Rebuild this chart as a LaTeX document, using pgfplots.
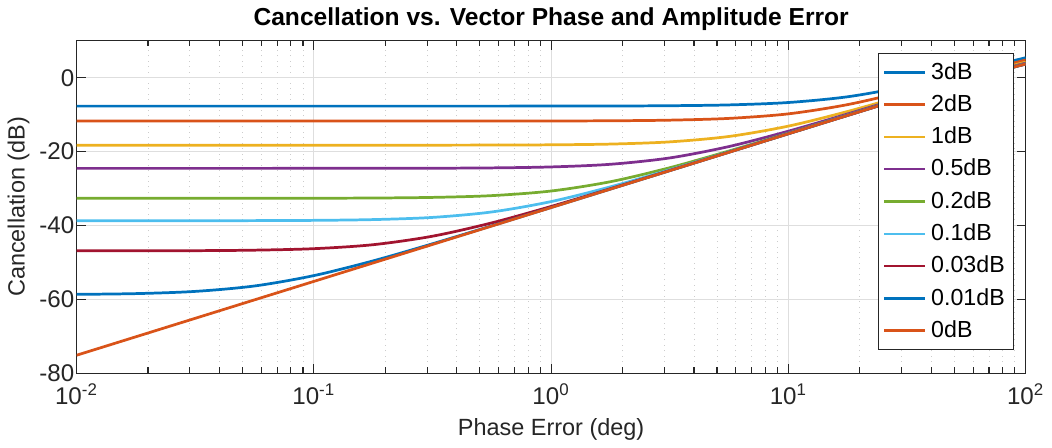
\documentclass[border=0pt]{standalone}
\usepackage{fontspec}
\setmainfont{Liberation Sans}
\usepackage{pgfplots}
\pgfplotsset{compat=1.18}
\definecolor{mblue}{HTML}{0072BD}
\definecolor{morange}{HTML}{D95319}
\definecolor{myellow}{HTML}{EDB120}
\definecolor{mpurple}{HTML}{7E2F8E}
\definecolor{mgreen}{HTML}{77AC30}
\definecolor{mcyan}{HTML}{4DBEEE}
\definecolor{mred}{HTML}{A2142F}
\definecolor{axgray}{HTML}{262626}

\begin{document}
\begin{tikzpicture}
\begin{axis}[
  xmode=log,
  width=417pt, height=146pt, scale only axis,
  xmin=0.01, xmax=100, ymin=-80, ymax=10,
  xtick={0.01,0.1,1,10,100},
  xticklabels={10\textsuperscript{-2},10\textsuperscript{-1},10\textsuperscript{0},10\textsuperscript{1},10\textsuperscript{2}},
  ytick={-80,-60,-40,-20,0},
  /pgf/number format/assume math mode=true,
  tick label style={font=\fontsize{10.6}{12}\selectfont, text=axgray},
  yticklabel style={xshift=2.5pt},
  xticklabel style={yshift=-1.2pt},
  label style={font=\fontsize{10.3}{12}\selectfont, text=axgray},
  ylabel style={yshift=-2.5pt},
  xlabel style={yshift=1pt},
  title style={font=\fontsize{10.8}{12}\selectfont\bfseries, yshift=-5pt},
  title={Cancellation vs. Vector Phase and Amplitude Error},
  xlabel={Phase Error (deg)},
  ylabel={Cancellation (dB)},
  axis line style={axgray, line width=0.5pt},
  every tick/.style={axgray, line width=0.5pt},
  major tick length=4pt, minor tick length=2.5pt,
  xmajorgrids, xminorgrids, ymajorgrids,
  major grid style={color=black!13, line width=0.4pt},
  minor grid style={color=black!20, dotted, line width=0.4pt},
  legend style={at={(rel axis cs:1,1)}, anchor=north east, xshift=-5pt, yshift=-5.2pt,
    font=\fontsize{10.2}{11}\selectfont, draw=axgray, line width=0.4pt,
    row sep=1.3pt, inner xsep=2pt, inner ysep=2pt},
  legend cell align=left,
  legend image code/.code={\draw[#1, line width=1.1pt] (0pt,0pt) -- (18pt,0pt);},
  every axis plot/.append style={line width=1.2pt, smooth, no marks},
]
\addplot[mblue] coordinates {(0.01,-7.69) (0.017783,-7.69) (0.031623,-7.69) (0.056234,-7.69) (0.1,-7.69) (0.17783,-7.69) (0.31623,-7.69) (0.56234,-7.69) (1,-7.68) (1.7783,-7.66) (3.1623,-7.58) (5.6234,-7.36) (10,-6.71) (17.783,-5.15) (31.623,-2.29) (56.234,1.54) (100,5.42)};
\addplot[morange] coordinates {(0.01,-11.74) (0.017783,-11.74) (0.031623,-11.74) (0.056234,-11.74) (0.1,-11.74) (0.17783,-11.74) (0.31623,-11.74) (0.56234,-11.73) (1,-11.71) (1.7783,-11.66) (3.1623,-11.49) (5.6234,-11.01) (10,-9.78) (17.783,-7.27) (31.623,-3.56) (56.234,0.74) (100,4.80)};
\addplot[myellow] coordinates {(0.01,-18.27) (0.017783,-18.27) (0.031623,-18.27) (0.056234,-18.27) (0.1,-18.27) (0.17783,-18.27) (0.31623,-18.26) (0.56234,-18.24) (1,-18.17) (1.7783,-17.97) (3.1623,-17.37) (5.6234,-15.90) (10,-13.10) (17.783,-9.13) (31.623,-4.58) (56.234,0.05) (100,4.23)};
\addplot[mpurple] coordinates {(0.01,-24.55) (0.017783,-24.55) (0.031623,-24.55) (0.056234,-24.55) (0.1,-24.54) (0.17783,-24.53) (0.31623,-24.51) (0.56234,-24.42) (1,-24.16) (1.7783,-23.44) (3.1623,-21.72) (5.6234,-18.63) (10,-14.47) (17.783,-9.80) (31.623,-4.98) (56.234,-0.25) (100,3.96)};
\addplot[mgreen] coordinates {(0.01,-32.66) (0.017783,-32.66) (0.031623,-32.66) (0.056234,-32.65) (0.1,-32.63) (0.17783,-32.58) (0.31623,-32.41) (0.56234,-31.93) (1,-30.68) (1.7783,-28.16) (3.1623,-24.37) (5.6234,-19.83) (10,-15.00) (17.783,-10.07) (31.623,-5.17) (56.234,-0.41) (100,3.81)};
\addplot[mcyan] coordinates {(0.01,-38.73) (0.017783,-38.73) (0.031623,-38.72) (0.056234,-38.70) (0.1,-38.63) (0.17783,-38.42) (0.31623,-37.83) (0.56234,-36.35) (1,-33.54) (1.7783,-29.55) (3.1623,-24.93) (5.6234,-20.06) (10,-15.10) (17.783,-10.14) (31.623,-5.22) (56.234,-0.46) (100,3.76)};
\addplot[mred] coordinates {(0.01,-46.89) (0.017783,-46.88) (0.031623,-46.84) (0.056234,-46.70) (0.1,-46.30) (0.17783,-45.22) (0.31623,-42.92) (0.56234,-39.31) (1,-34.86) (1.7783,-30.05) (3.1623,-25.12) (5.6234,-20.14) (10,-15.15) (17.783,-10.18) (31.623,-5.25) (56.234,-0.49) (100,3.73)};
\addplot[mblue] coordinates {(0.01,-58.67) (0.017783,-58.47) (0.031623,-57.87) (0.056234,-56.40) (0.1,-53.59) (0.17783,-49.60) (0.31623,-44.97) (0.56234,-40.10) (1,-35.14) (1.7783,-30.15) (3.1623,-25.16) (5.6234,-20.16) (10,-15.17) (17.783,-10.19) (31.623,-5.26) (56.234,-0.51) (100,3.71)};
\addplot[morange] coordinates {(0.01,-75.16) (0.017783,-70.16) (0.031623,-65.16) (0.056234,-60.16) (0.1,-55.16) (0.17783,-50.16) (0.31623,-45.16) (0.56234,-40.16) (1,-35.16) (1.7783,-30.16) (3.1623,-25.16) (5.6234,-20.17) (10,-15.17) (17.783,-10.20) (31.623,-5.27) (56.234,-0.51) (100,3.71)};
\legend{3dB,2dB,1dB,0.5dB,0.2dB,0.1dB,0.03dB,0.01dB,0dB}
\end{axis}
\end{tikzpicture}
\end{document}
